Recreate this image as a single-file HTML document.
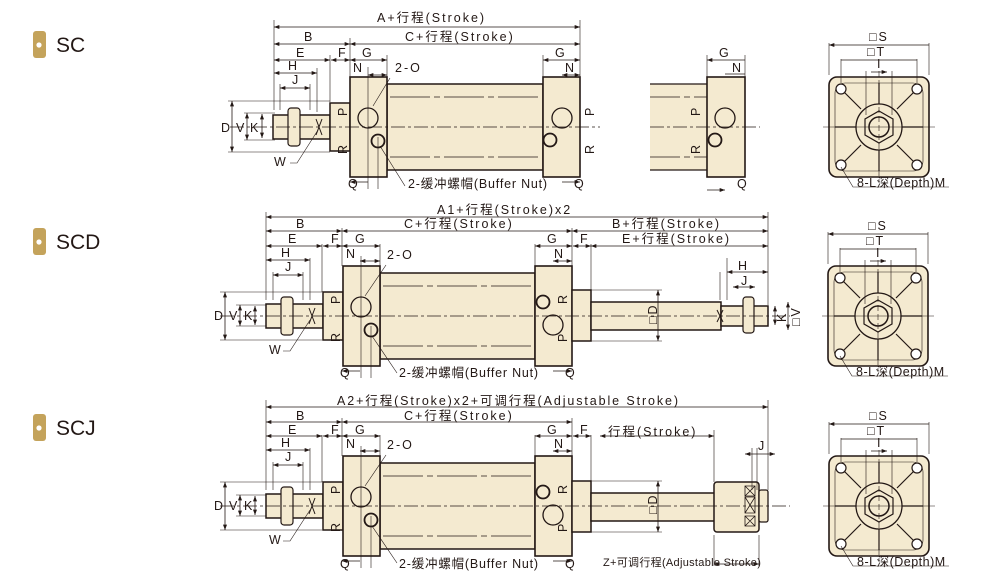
<!DOCTYPE html>
<html><head><meta charset="utf-8"><style>
html,body{margin:0;padding:0;background:#fff;width:989px;height:587px;overflow:hidden}
svg{display:block}
text{font-family:"Liberation Sans","Noto Sans CJK SC",sans-serif;font-size:12.5px;fill:#231815;letter-spacing:2px}
.lab{font-size:21px;letter-spacing:0}
.sm{font-size:11px;letter-spacing:0.3px}
</style></head><body>
<svg width="989" height="587" viewBox="0 0 989 587" xmlns="http://www.w3.org/2000/svg">
<defs>
<marker id="a" viewBox="0 0 8 6" refX="8" refY="3" markerWidth="7" markerHeight="5" orient="auto-start-reverse"><path d="M0,0L8,3L0,6z" fill="#231815"/></marker>
<g id="left">
 <rect x="-77" y="-12" width="57" height="24" fill="#f4ead0" stroke="#231815" stroke-width="1.5"/>
 <rect x="-62" y="-19" width="12" height="38" rx="3" fill="#f4ead0" stroke="#231815" stroke-width="1.2"/>
 <path d="M-34,-8l6,16M-28,-8l-6,16" stroke="#231815"/>
 <rect x="-20" y="-24" width="20" height="48" fill="#f4ead0" stroke="#231815" stroke-width="1.5"/>
 <rect x="0" y="-50" width="37" height="100" fill="#f4ead0" stroke="#231815" stroke-width="1.6"/>
 <circle cx="18" cy="-9" r="10" fill="#f4ead0" stroke="#231815" stroke-width="1.3"/>
 <circle cx="28" cy="14" r="6.5" fill="#f4ead0" stroke="#231815" stroke-width="1.8"/>
 <line x1="18" y1="-60" x2="18" y2="62" stroke="#231815" stroke-width=".6"/>
 <line x1="28" y1="10" x2="28" y2="62" stroke="#231815" stroke-width=".6"/>
</g>
<g id="end">
 <rect x="-50" y="-50" width="100" height="100" rx="8" fill="#f4ead0" stroke="#231815" stroke-width="1.6"/>
 <rect x="-44" y="-44" width="88" height="88" rx="10" fill="none" stroke="#231815" stroke-width=".6"/>
 <path d="M-36,-36L-18,-18M36,-36L18,-18M-36,36L-18,18M36,36L18,18M0,-44V-22M0,44V22M-44,0H-22M44,0H22" stroke="#231815" stroke-width="1.2"/>
 <circle r="23" fill="#f4ead0" stroke="#231815" stroke-width="1.3"/>
 <polygon points="0,-16 14,-8 14,8 0,16 -14,8 -14,-8" fill="#f4ead0" stroke="#231815" stroke-width="1.2"/>
 <circle r="10" fill="#f4ead0" stroke="#231815" stroke-width="1.5"/>
 <circle cx="-38" cy="-38" r="5" fill="#fff" stroke="#231815" stroke-width="1.2"/>
 <circle cx="38" cy="-38" r="5" fill="#fff" stroke="#231815" stroke-width="1.2"/>
 <circle cx="-38" cy="38" r="5" fill="#fff" stroke="#231815" stroke-width="1.2"/>
 <circle cx="38" cy="38" r="5" fill="#fff" stroke="#231815" stroke-width="1.2"/>
 <line x1="-56" y1="0" x2="56" y2="0" stroke="#231815" stroke-width=".6"/>
 <line x1="0" y1="-56" x2="0" y2="56" stroke="#231815" stroke-width=".6" stroke-dasharray="6 3"/>
 <path d="M-50,-52V-84M50,-52V-84M-38,-44V-68M38,-44V-68M-13,-12V-56M13,-12V-56" stroke="#231815" stroke-width=".6"/>
 <path d="M-50,-82H50M-38,-67H38M-8,-55H8" stroke="#231815" stroke-width=".8" marker-start="url(#a)" marker-end="url(#a)"/>
 <text x="-10" y="-86">□S</text><text x="-12" y="-71">□T</text><text x="-2" y="-59">I</text>
 <path d="M-38,40L-26,60H70" stroke="#231815" stroke-width=".6" fill="none"/>
 <text x="-22" y="60" style="letter-spacing:0.5px">8-L深(Depth)M</text>
</g>
</defs>

<!-- labels -->
<g><rect x="33" y="31" width="13" height="27" rx="3" fill="#c4a35b"/><circle cx="39" cy="45" r="2.6" fill="#fff"/><text class="lab" x="56" y="52">SC</text></g>
<g><rect x="33" y="228" width="13" height="27" rx="3" fill="#c4a35b"/><circle cx="39" cy="242" r="2.6" fill="#fff"/><text class="lab" x="56" y="249">SCD</text></g>
<g><rect x="33" y="414" width="13" height="27" rx="3" fill="#c4a35b"/><circle cx="39" cy="428" r="2.6" fill="#fff"/><text class="lab" x="56" y="435">SCJ</text></g>

<!-- ===== SC ===== -->
<rect x="387" y="84" width="156" height="86" fill="#f4ead0" stroke="#231815" stroke-width="1.5"/>
<path d="M390,97H540M390,157H540" stroke="#231815" stroke-width=".8" stroke-dasharray="40 4 6 4"/>
<use href="#left" x="350" y="127"/>
<rect x="543" y="77" width="37" height="100" fill="#f4ead0" stroke="#231815" stroke-width="1.6"/>
<circle cx="562" cy="118" r="10" fill="#f4ead0" stroke="#231815" stroke-width="1.3"/>
<circle cx="550" cy="140" r="6.5" fill="#f4ead0" stroke="#231815" stroke-width="1.8"/>
<line x1="230" y1="127" x2="600" y2="127" stroke="#231815" stroke-width=".7" stroke-dasharray="14 3 3 3"/>
<path d="M274,20V110M580,20V77M350,38V77M330,55V102M317,68V112M280,84V110M310,84V110M387,55V77M543,55V77" stroke="#231815" stroke-width=".6"/>
<g stroke="#231815" stroke-width=".8" marker-start="url(#a)" marker-end="url(#a)">
<path d="M274,27H580"/><path d="M274,44H350"/><path d="M350,44H580"/><path d="M274,60H330"/><path d="M331,60H350"/><path d="M350,60H387"/><path d="M543,60H580"/><path d="M274,73H317"/><path d="M280,88H310"/><path d="M368,75H387"/><path d="M562,75H580"/>
<path d="M232,101V152"/><path d="M247,113V140"/><path d="M262,114V138"/>
</g>
<path d="M228,101H330M228,152H330M244,113H275M244,140H275" stroke="#231815" stroke-width=".6"/>
<text x="377" y="22">A+行程(Stroke)</text><text x="304" y="41">B</text><text x="405" y="41">C+行程(Stroke)</text>
<text x="555" y="57">G</text><text x="296" y="57">E</text><text x="338" y="57">F</text><text x="362" y="57">G</text>
<text x="288" y="70">H</text><text x="292" y="84">J</text><text x="353" y="72">N</text><text x="565" y="72">N</text>
<text x="395" y="72">2-O</text><text x="221" y="132">D</text><text x="236" y="132">V</text><text x="250" y="132">K</text>
<text x="274" y="166">W</text><path d="M290,163H297L318,130" stroke="#231815" stroke-width=".6" fill="none"/>
<path d="M390,78L373,106" stroke="#231815" stroke-width=".6"/>
<text x="408" y="188" style="letter-spacing:0.8px">2-缓冲螺帽(Buffer Nut)</text><path d="M380,146L405,186" stroke="#231815" stroke-width=".6"/>
<text x="348" y="188">Q</text><text x="574" y="188">Q</text>
<text transform="translate(347,116) rotate(-90)">P</text><text transform="translate(347,154) rotate(-90)">R</text><text transform="translate(594,116) rotate(-90)">P</text><text transform="translate(594,154) rotate(-90)">R</text>
<path d="M350,182H368M562,182H580" stroke="#231815" stroke-width=".8" marker-start="url(#a)" marker-end="url(#a)"/>
<!-- partial view -->
<rect x="650" y="84" width="57" height="86" fill="#f4ead0" stroke="none"/>
<path d="M650,84H707M650,170H707" stroke="#231815" stroke-width="1.3"/>
<path d="M650,97H707M650,157H707" stroke="#231815" stroke-width=".8" stroke-dasharray="30 4 6 4"/>
<rect x="707" y="77" width="38" height="100" fill="#f4ead0" stroke="#231815" stroke-width="1.6"/>
<circle cx="725" cy="118" r="10" fill="#f4ead0" stroke="#231815" stroke-width="1.3"/>
<circle cx="715" cy="140" r="6.5" fill="#f4ead0" stroke="#231815" stroke-width="1.8"/>
<line x1="650" y1="127" x2="760" y2="127" stroke="#231815" stroke-width=".7" stroke-dasharray="14 3 3 3"/>
<path d="M707,55V77M745,55V77" stroke="#231815" stroke-width=".6"/>
<path d="M707,60H745M725,74H745M707,190H725" stroke="#231815" stroke-width=".8" marker-start="url(#a)" marker-end="url(#a)"/>
<text x="719" y="57">G</text><text x="732" y="72">N</text><text x="737" y="188">Q</text>
<text transform="translate(700,116) rotate(-90)">P</text><text transform="translate(700,154) rotate(-90)">R</text>
<use href="#end" x="879" y="127"/>

<!-- ===== SCD ===== -->
<rect x="380" y="273" width="155" height="86" fill="#f4ead0" stroke="#231815" stroke-width="1.5"/>
<path d="M383,286H532M383,346H532" stroke="#231815" stroke-width=".8" stroke-dasharray="40 4 6 4"/>
<use href="#left" x="343" y="316"/>
<rect x="535" y="266" width="37" height="100" fill="#f4ead0" stroke="#231815" stroke-width="1.6"/>
<circle cx="553" cy="325" r="10" fill="#f4ead0" stroke="#231815" stroke-width="1.3"/>
<circle cx="543" cy="302" r="6.5" fill="#f4ead0" stroke="#231815" stroke-width="1.8"/>
<rect x="572" y="290" width="19" height="51" fill="#f4ead0" stroke="#231815" stroke-width="1.5"/>
<rect x="591" y="302" width="130" height="28" fill="#f4ead0" stroke="#231815" stroke-width="1.5"/>
<rect x="721" y="306" width="47" height="20" fill="#f4ead0" stroke="#231815" stroke-width="1.5"/>
<rect x="743" y="297" width="11" height="36" rx="3" fill="#f4ead0" stroke="#231815" stroke-width="1.2"/>
<path d="M717,310l6,12M723,310l-6,12" stroke="#231815"/>
<line x1="220" y1="316" x2="790" y2="316" stroke="#231815" stroke-width=".7" stroke-dasharray="14 3 3 3"/>
<path d="M266,212V300M768,212V305M342,228V266M572,228V266M591,244V290M322,244V292M310,258V300M273,272V300M303,272V300M380,244V266M535,244V266M727,258V300M720,272V300" stroke="#231815" stroke-width=".6"/>
<g stroke="#231815" stroke-width=".8" marker-start="url(#a)" marker-end="url(#a)">
<path d="M266,217H768"/><path d="M266,231H342"/><path d="M342,231H572"/><path d="M572,231H768"/><path d="M266,246H322"/><path d="M323,246H342"/><path d="M342,246H380"/><path d="M535,246H572"/><path d="M573,246H591"/><path d="M591,246H768"/><path d="M266,260H310"/><path d="M273,275H303"/><path d="M727,272H768"/><path d="M733,287H755"/><path d="M360,261H380"/><path d="M553,261H572"/>
<path d="M225,292V340"/><path d="M240,305V326"/><path d="M255,306V325"/><path d="M658,290V341"/><path d="M775,306V325"/><path d="M788,302V330"/>
</g>
<path d="M220,292H322M220,340H322M236,305H266M236,326H266M591,290H662M591,341H662" stroke="#231815" stroke-width=".6"/>
<text x="437" y="214">A1+行程(Stroke)x2</text><text x="296" y="228">B</text><text x="404" y="228">C+行程(Stroke)</text><text x="612" y="228">B+行程(Stroke)</text>
<text x="288" y="243">E</text><text x="331" y="243">F</text><text x="355" y="243">G</text><text x="547" y="243">G</text><text x="580" y="243">F</text><text x="622" y="243">E+行程(Stroke)</text>
<text x="281" y="257">H</text><text x="285" y="271">J</text><text x="346" y="258">N</text><text x="554" y="258">N</text><text x="387" y="259">2-O</text>
<text x="738" y="270">H</text><text x="741" y="285">J</text>
<text x="214" y="320">D</text><text x="229" y="320">V</text><text x="244" y="320">K</text>
<text x="269" y="354">W</text><path d="M283,351H290L310,320" stroke="#231815" stroke-width=".6" fill="none"/>
<path d="M386,265L365,296" stroke="#231815" stroke-width=".6"/>
<text x="399" y="377" style="letter-spacing:0.8px">2-缓冲螺帽(Buffer Nut)</text><path d="M372,336L397,373" stroke="#231815" stroke-width=".6"/>
<text x="340" y="377">Q</text><text x="565" y="377">Q</text>
<text transform="translate(340,304) rotate(-90)">P</text><text transform="translate(340,342) rotate(-90)">R</text><text transform="translate(567,304) rotate(-90)">R</text><text transform="translate(567,342) rotate(-90)">P</text>
<text transform="translate(657,324) rotate(-90)">□D</text><text transform="translate(786,322) rotate(-90)">K</text><text transform="translate(800,326) rotate(-90)">□V</text>
<path d="M342,371H360M553,371H572" stroke="#231815" stroke-width=".8" marker-start="url(#a)" marker-end="url(#a)"/>
<use href="#end" x="878" y="316"/>

<!-- ===== SCJ ===== -->
<rect x="380" y="463" width="155" height="86" fill="#f4ead0" stroke="#231815" stroke-width="1.5"/>
<path d="M383,476H532M383,536H532" stroke="#231815" stroke-width=".8" stroke-dasharray="40 4 6 4"/>
<use href="#left" x="343" y="506"/>
<rect x="535" y="456" width="37" height="100" fill="#f4ead0" stroke="#231815" stroke-width="1.6"/>
<circle cx="553" cy="515" r="10" fill="#f4ead0" stroke="#231815" stroke-width="1.3"/>
<circle cx="543" cy="492" r="6.5" fill="#f4ead0" stroke="#231815" stroke-width="1.8"/>
<rect x="572" y="481" width="19" height="51" fill="#f4ead0" stroke="#231815" stroke-width="1.5"/>
<rect x="591" y="493" width="124" height="28" fill="#f4ead0" stroke="#231815" stroke-width="1.5"/>
<rect x="714" y="482" width="45" height="50" rx="3" fill="#f4ead0" stroke="#231815" stroke-width="1.5"/>
<rect x="759" y="490" width="9" height="32" rx="2" fill="#f4ead0" stroke="#231815" stroke-width="1.3"/>
<path d="M745,486h10v10h-10zM745,486l10,10M755,486l-10,10M745,497h10v16h-10zM745,497l10,16M755,497l-10,16M745,516h10v10h-10zM745,516l10,10M755,516l-10,10" stroke="#231815" stroke-width=".8" fill="none"/>
<line x1="220" y1="506" x2="790" y2="506" stroke="#231815" stroke-width=".7" stroke-dasharray="14 3 3 3"/>
<path d="M266,400V490M768,400V490M342,418V456M572,418V456M591,435V481M322,435V482M310,448V490M273,462V490M303,462V490M380,435V456M535,435V456M714,430V482M752,448V490M757,448V490M714,535V566M759,535V566" stroke="#231815" stroke-width=".6"/>
<g stroke="#231815" stroke-width=".8" marker-start="url(#a)" marker-end="url(#a)">
<path d="M266,407H768"/><path d="M266,422H342"/><path d="M342,422H572"/><path d="M266,436H322"/><path d="M323,436H342"/><path d="M342,436H380"/><path d="M535,436H572"/><path d="M573,436H591"/><path d="M600,436H714"/><path d="M266,450H310"/><path d="M273,465H303"/><path d="M360,451H380"/><path d="M553,451H572"/><path d="M745,454H775"/><path d="M714,564H759"/>
<path d="M225,482V530"/><path d="M240,495V516"/><path d="M255,496V515"/><path d="M658,481V532"/>
</g>
<path d="M220,482H322M220,530H322M236,495H266M236,516H266M591,481H662M591,532H662" stroke="#231815" stroke-width=".6"/>
<text x="337" y="405" style="letter-spacing:1.9px">A2+行程(Stroke)x2+可调行程(Adjustable Stroke)</text><text x="296" y="420">B</text><text x="404" y="420">C+行程(Stroke)</text>
<text x="288" y="434">E</text><text x="331" y="434">F</text><text x="355" y="434">G</text><text x="547" y="434">G</text><text x="580" y="434">F</text><text x="608" y="436">行程(Stroke)</text>
<text x="281" y="447">H</text><text x="285" y="461">J</text><text x="346" y="448">N</text><text x="554" y="448">N</text><text x="387" y="449">2-O</text><text x="758" y="450">J</text>
<text x="214" y="510">D</text><text x="229" y="510">V</text><text x="244" y="510">K</text>
<text x="269" y="544">W</text><path d="M283,541H290L310,510" stroke="#231815" stroke-width=".6" fill="none"/>
<path d="M386,455L365,486" stroke="#231815" stroke-width=".6"/>
<text x="399" y="568" style="letter-spacing:0.8px">2-缓冲螺帽(Buffer Nut)</text><path d="M372,526L397,563" stroke="#231815" stroke-width=".6"/>
<text x="340" y="568">Q</text><text x="565" y="568">Q</text>
<text transform="translate(340,494) rotate(-90)">P</text><text transform="translate(340,532) rotate(-90)">R</text><text transform="translate(567,494) rotate(-90)">R</text><text transform="translate(567,532) rotate(-90)">P</text>
<text transform="translate(657,514) rotate(-90)">□D</text>
<text class="sm" x="603" y="566">Z+可调行程(Adjustable Stroke)</text>
<path d="M342,561H360M553,561H572" stroke="#231815" stroke-width=".8" marker-start="url(#a)" marker-end="url(#a)"/>
<use href="#end" x="879" y="506"/>
</svg>
</body></html>
